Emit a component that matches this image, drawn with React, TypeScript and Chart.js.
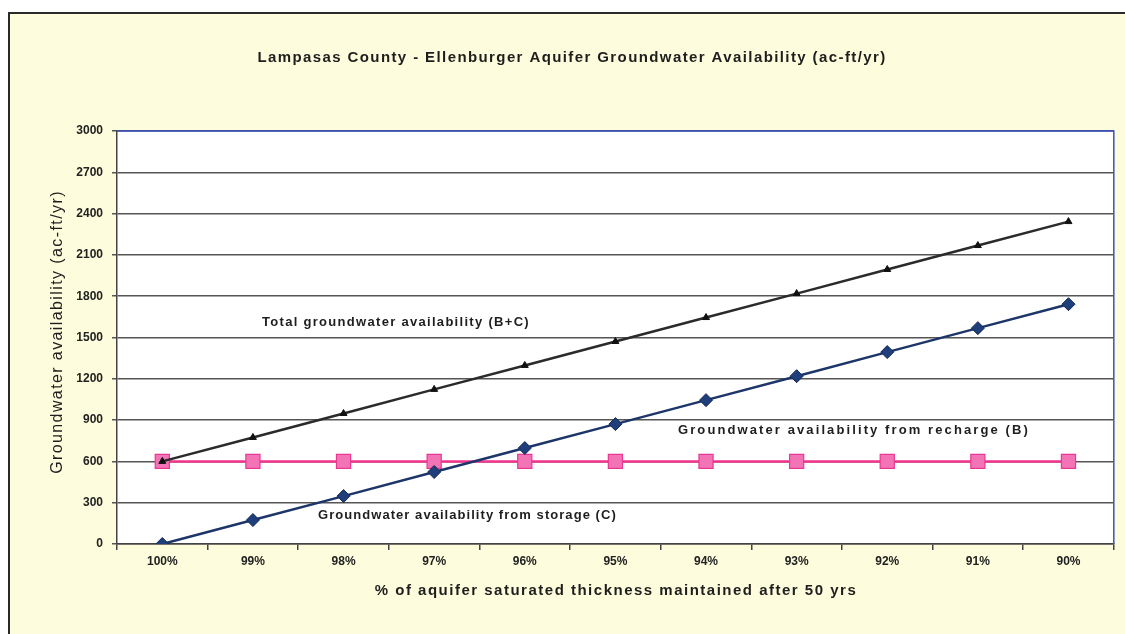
import React, { useEffect, useRef } from "react";
import { Chart, registerables } from "chart.js";

Chart.register(...registerables);

// Percentage of saturated thickness kept after 50 years
const categories = ["100%", "99%", "98%", "97%", "96%", "95%", "94%", "93%", "92%", "91%", "90%"];

// Groundwater availability from recharge (B), ac-ft/yr
const rechargeB = [600, 600, 600, 600, 600, 600, 600, 600, 600, 600, 600];

// Groundwater availability from storage (C), ac-ft/yr
const storageC = [0, 174, 348, 523, 697, 871, 1045, 1219, 1394, 1568, 1742];

// Total groundwater availability (B+C), ac-ft/yr
const totalBC = [600, 774, 948, 1123, 1297, 1471, 1645, 1819, 1994, 2168, 2342];

const yTicks = [0, 300, 600, 900, 1200, 1500, 1800, 2100, 2400, 2700, 3000];

const FONT = "'Liberation Sans', Arial, sans-serif";

const textPlugin = {
  id: "chartText",
  afterDraw(chart: any) {
    const { ctx, chartArea } = chart;
    ctx.save();

    // plot-area frame (top and right edges)
    ctx.strokeStyle = "#3a52c4";
    ctx.lineWidth = 1.5;
    ctx.beginPath();
    ctx.moveTo(chartArea.left, chartArea.top);
    ctx.lineTo(chartArea.right, chartArea.top);
    ctx.lineTo(chartArea.right, chartArea.bottom);
    ctx.stroke();

    ctx.fillStyle = "#1e1e1e";
    ctx.textBaseline = "middle";
    ctx.textAlign = "center";

    // title
    ctx.font = `bold 15px ${FONT}`;
    (ctx as any).letterSpacing = "1.4px";
    ctx.fillText("Lampasas County - Ellenburger Aquifer Groundwater Availability (ac-ft/yr)", 572, 58);

    // x-axis title
    ctx.font = `bold 15px ${FONT}`;
    (ctx as any).letterSpacing = "1.5px";
    ctx.fillText("% of aquifer saturated thickness maintained after 50 yrs", 616, 591);

    // y-axis title
    ctx.save();
    ctx.translate(58, 332);
    ctx.rotate(-Math.PI / 2);
    ctx.font = `16px ${FONT}`;
    (ctx as any).letterSpacing = "1.4px";
    ctx.fillText("Groundwater availability (ac-ft/yr)", 0, 0);
    ctx.restore();

    // series labels
    ctx.textAlign = "left";
    ctx.font = `bold 13px ${FONT}`;
    (ctx as any).letterSpacing = "1.3px";
    ctx.fillText("Total groundwater availability (B+C)", 262, 322);
    (ctx as any).letterSpacing = "2.1px";
    ctx.fillText("Groundwater availability from recharge (B)", 678, 430);
    (ctx as any).letterSpacing = "1.05px";
    ctx.fillText("Groundwater availability from storage (C)", 318, 515);

    ctx.restore();
  },
};

const bgPlugin = {
  id: "plotBg",
  beforeDraw(chart: any) {
    const { ctx, chartArea } = chart;
    ctx.save();
    ctx.fillStyle = "#ffffff";
    ctx.fillRect(chartArea.left, chartArea.top, chartArea.right - chartArea.left, chartArea.bottom - chartArea.top);
    ctx.restore();
  },
};

export default function App() {
  const canvasRef = useRef<HTMLCanvasElement | null>(null);

  useEffect(() => {
    document.body.style.margin = "0";
    const canvas = canvasRef.current;
    if (!canvas) return;
    const chart = new Chart(canvas, {
      type: "line",
      data: {
        labels: categories,
        datasets: [
          {
            label: "Total groundwater availability (B+C)",
            data: totalBC,
            borderColor: "#2b2b2b",
            backgroundColor: "#111111",
            borderWidth: 2.5,
            pointStyle: "triangle",
            pointRadius: 4,
            pointBorderWidth: 1,
            pointBorderColor: "#111111",
            order: 0,
          },
          {
            label: "Groundwater availability from storage (C)",
            data: storageC,
            borderColor: "#1d3568",
            backgroundColor: "#1f3f7c",
            borderWidth: 2.5,
            pointStyle: "rectRot",
            pointRadius: 6.5,
            pointBorderWidth: 1,
            pointBorderColor: "#15284f",
            order: 1,
          },
          {
            label: "Groundwater availability from recharge (B)",
            data: rechargeB,
            borderColor: "#f2348f",
            backgroundColor: "#f374b6",
            borderWidth: 2.5,
            pointStyle: "rect",
            pointRadius: 10,
            pointBorderWidth: 1.2,
            pointBorderColor: "#e8388f",
            order: 2,
          },
        ],
      },
      options: {
        animation: false,
        responsive: false,
        events: [],
        layout: { padding: { top: 131, right: 8, left: 0, bottom: 0 } },
        plugins: {
          legend: { display: false },
          title: { display: false },
          tooltip: { enabled: false },
        },
        scales: {
          x: {
            type: "category",
            offset: true,
            grid: {
              offset: true,
              drawOnChartArea: false,
              drawTicks: true,
              tickLength: 6,
              color: "#444444",
              lineWidth: 1.5,
            },
            border: { display: true, color: "#444444", width: 1.5 },
            ticks: {
              color: "#222222",
              font: { family: FONT, size: 12, weight: "bold" },
              padding: 4,
              maxRotation: 0,
              autoSkip: false,
            },
            afterFit: (s: any) => {
              s.height = 634 - 544;
            },
          },
          y: {
            min: 0,
            max: 3000,
            afterBuildTicks: (s: any) => {
              s.ticks = yTicks.map((v) => ({ value: v }));
            },
            grid: {
              color: "#555555",
              lineWidth: 1.5,
              tickLength: 5,
            },
            border: { display: true, color: "#444444", width: 1.5 },
            ticks: {
              color: "#222222",
              font: { family: FONT, size: 12, weight: "bold" },
              padding: 9,
              callback: (v: any) => String(v),
            },
            afterFit: (s: any) => {
              s.width = 117;
            },
          },
        },
      },
      plugins: [bgPlugin, textPlugin],
    });
    return () => chart.destroy();
  }, []);

  return (
    <div style={{ position: "relative", width: 1125, height: 634, overflow: "hidden", background: "#ffffff" }}>
      <div
        style={{
          position: "absolute",
          left: 8,
          top: 12,
          width: 1140,
          height: 660,
          borderTop: "2px solid #2a2a2a",
          borderLeft: "2px solid #2a2a2a",
          background: "#fdfcdc",
        }}
      />
      <canvas ref={canvasRef} width={1125} height={634} style={{ position: "absolute", left: 0, top: 0 }} />
    </div>
  );
}
